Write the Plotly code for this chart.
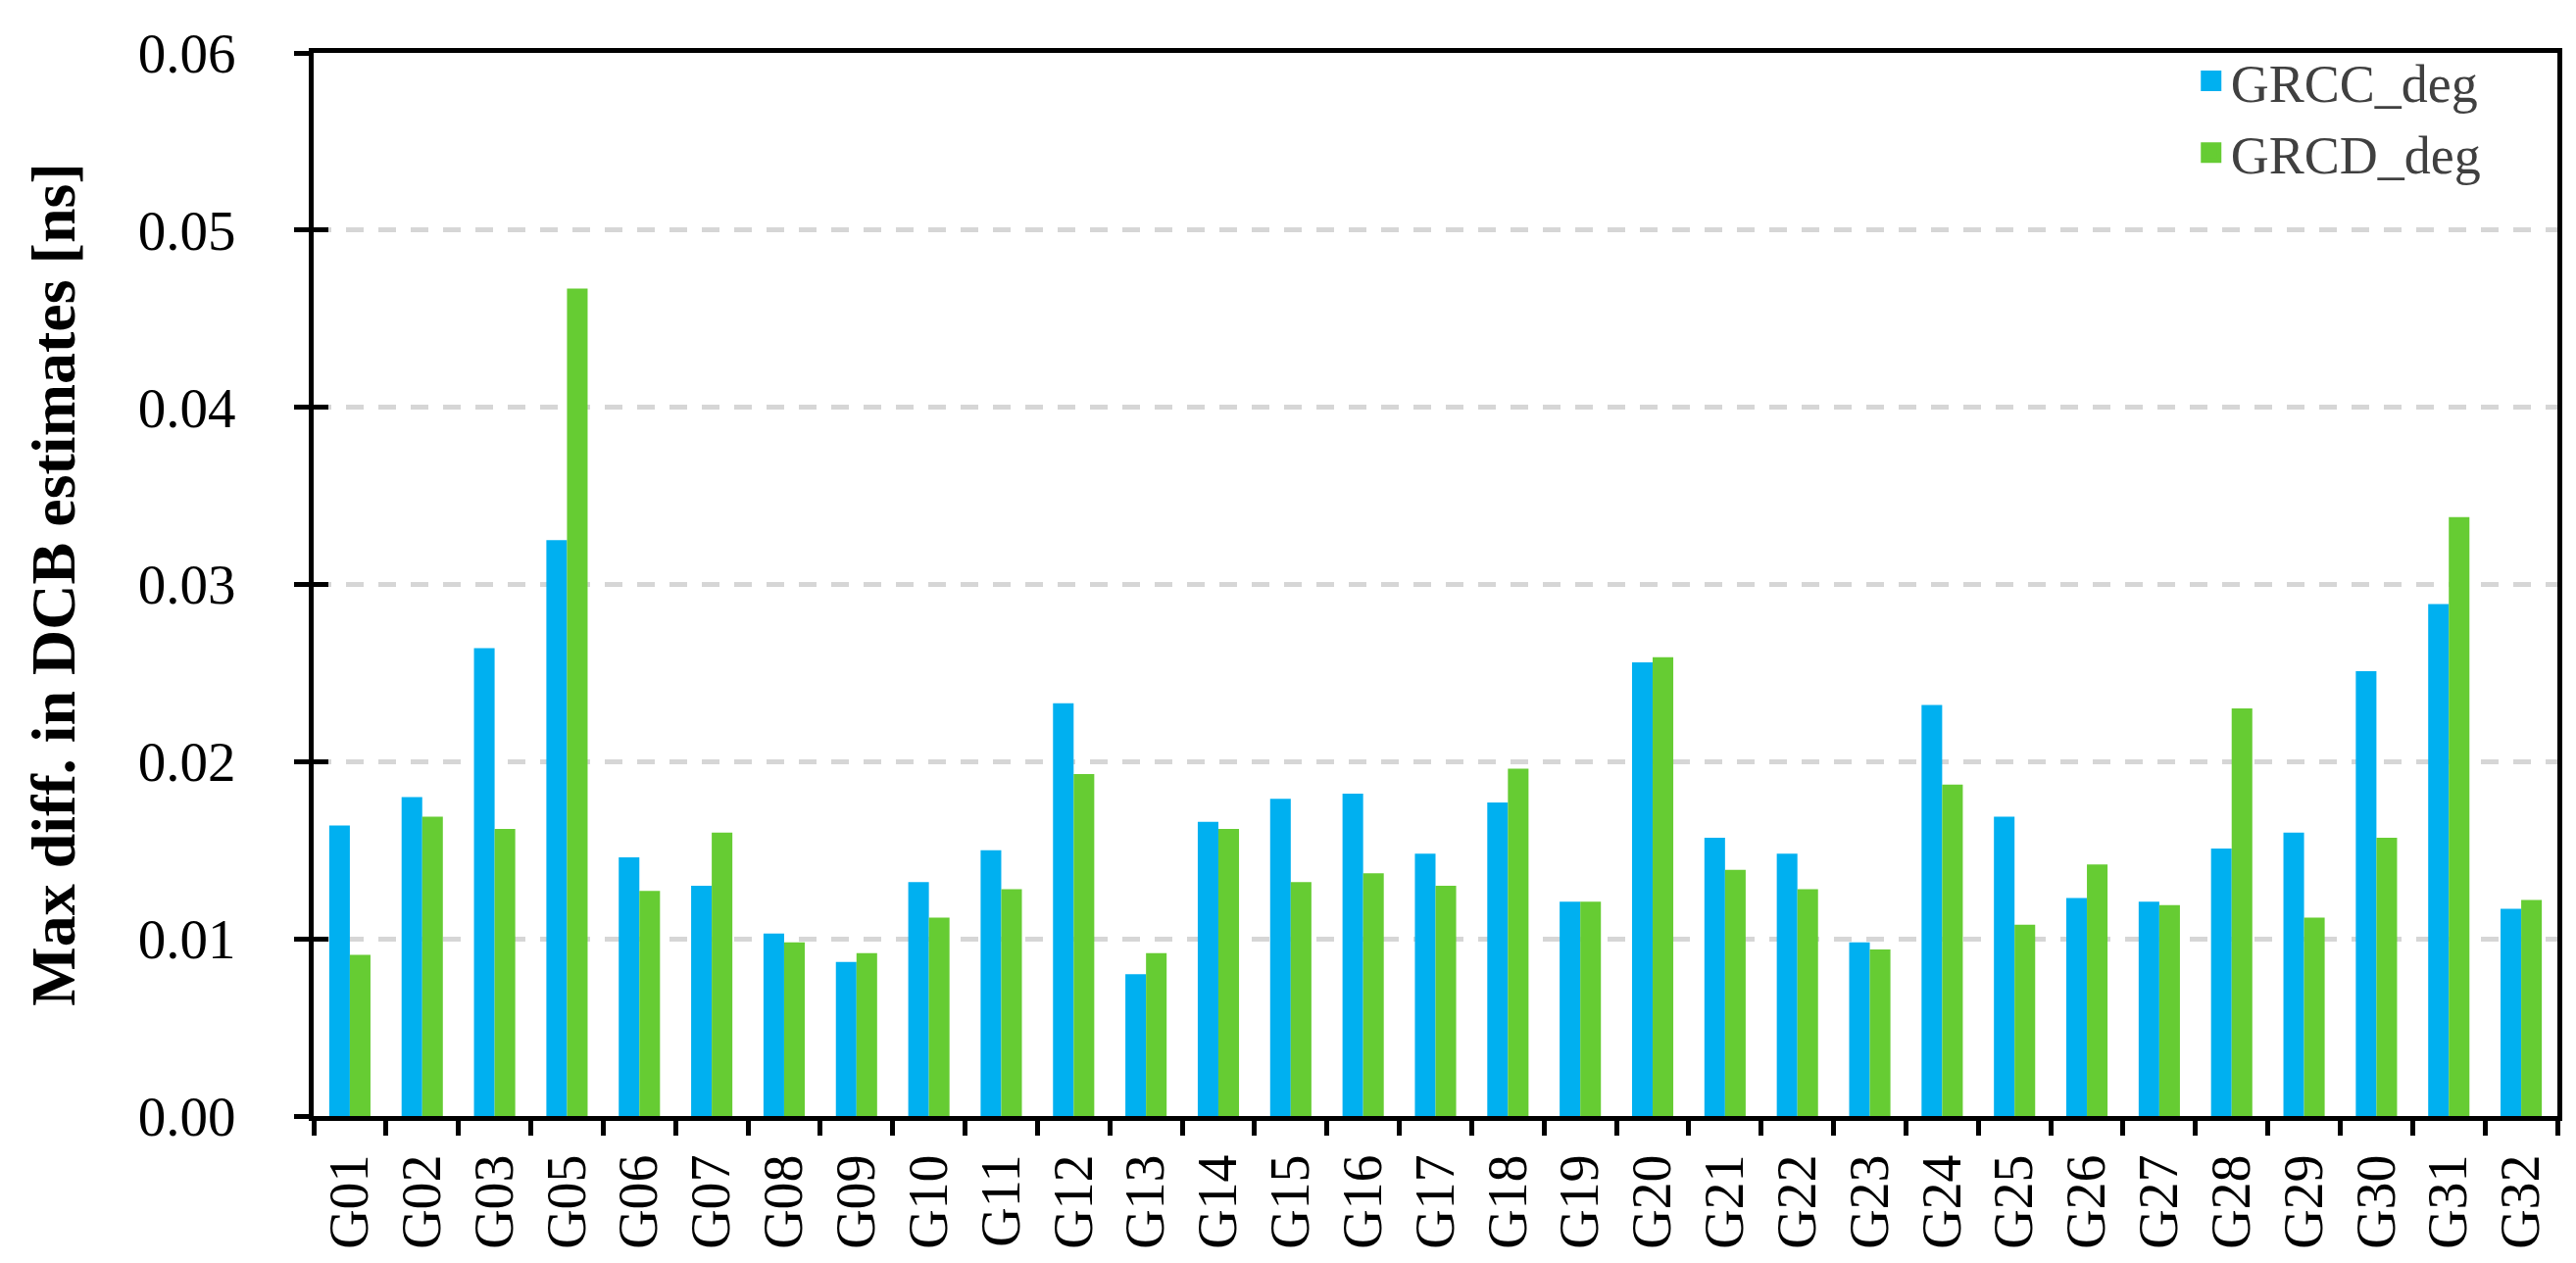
import plotly.graph_objects as go

categories = ["G01", "G02", "G03", "G05", "G06", "G07", "G08", "G09", "G10", "G11",
              "G12", "G13", "G14", "G15", "G16", "G17", "G18", "G19", "G20", "G21",
              "G22", "G23", "G24", "G25", "G26", "G27", "G28", "G29", "G30", "G31", "G32"]

grcc_deg = [0.0164, 0.0180, 0.0264, 0.0325, 0.0146, 0.0130, 0.0103, 0.0087, 0.0132, 0.0150,
            0.0233, 0.0080, 0.0166, 0.0179, 0.0182, 0.0148, 0.0177, 0.0121, 0.0256, 0.0157,
            0.0148, 0.0098, 0.0232, 0.0169, 0.0123, 0.0121, 0.0151, 0.0160, 0.0251, 0.0289, 0.0117]

grcd_deg = [0.0091, 0.0169, 0.0162, 0.0467, 0.0127, 0.0160, 0.0098, 0.0092, 0.0112, 0.0128,
            0.0193, 0.0092, 0.0162, 0.0132, 0.0137, 0.0130, 0.0196, 0.0121, 0.0259, 0.0139,
            0.0128, 0.0094, 0.0187, 0.0108, 0.0142, 0.0119, 0.0230, 0.0112, 0.0157, 0.0338, 0.0122]

y_ticks = [0.00, 0.01, 0.02, 0.03, 0.04, 0.05, 0.06]

BLUE = "#00B0F0"
GREEN = "#66CC33"
FONT = "Liberation Serif"

fig = go.Figure()
fig.add_trace(go.Bar(x=categories, y=grcc_deg, name="GRCC_deg", marker_color=BLUE,
                     marker_line_width=0, showlegend=False))
fig.add_trace(go.Bar(x=categories, y=grcd_deg, name="GRCD_deg", marker_color=GREEN,
                     marker_line_width=0, showlegend=False))
# legend entries (larger square symbols)
for nm, col in [("GRCC_deg", BLUE), ("GRCD_deg", GREEN)]:
    fig.add_trace(go.Scatter(x=[None], y=[None], mode="markers", name=nm, yaxis="y2",
                             marker=dict(symbol="square", size=16, color=col,
                                         line=dict(color=col, width=5))))

fig.update_layout(
    width=2628, height=1289,
    paper_bgcolor="white", plot_bgcolor="white",
    margin=dict(l=312, r=27, t=46, b=158),
    bargap=0.43, bargroupgap=0,
    font=dict(family=FONT, color="black", size=54),
    xaxis=dict(
        type="category", categoryorder="array", categoryarray=categories,
        showline=True, linecolor="black", linewidth=5, mirror=True,
        ticks="outside", tickson="boundaries", ticklen=15, tickwidth=5, tickcolor="black",
        tickangle=-90, tickfont=dict(family=FONT, size=56, color="black"),
        ticklabelstandoff=12,
        showgrid=False, zeroline=False,
    ),
    yaxis=dict(
        range=[0, 0.06], tickvals=y_ticks, tickformat=".2f",
        showline=True, linecolor="black", linewidth=5, mirror=True,
        ticks="outside", ticklen=15, tickwidth=5, tickcolor="black",
        tickfont=dict(family=FONT, size=57, color="black"),
        ticklabelstandoff=48,
        showgrid=True, gridcolor="#D6D6D6", gridwidth=5, griddash="18px,15px",
        zeroline=False,
        title=dict(text="<b>Max diff. in DCB estimates [ns]</b>",
                   font=dict(family=FONT, size=64, color="black"), standoff=45),
    ),
    yaxis2=dict(
        visible=True, overlaying="y", side="left", anchor="x", range=[0, 0.06],
        tickvals=y_ticks,
        ticks="inside", ticklen=15, tickwidth=5, tickcolor="black",
        showticklabels=False, showgrid=False, zeroline=False, showline=False,
    ),
    legend=dict(
        x=0.968, xanchor="right", y=1.012, yanchor="top",
        bgcolor="rgba(0,0,0,0)", borderwidth=0,
        font=dict(family=FONT, size=54, color="#404040"),
        itemwidth=30, tracegroupgap=0,
    ),
)

fig.write_html("out.html")
